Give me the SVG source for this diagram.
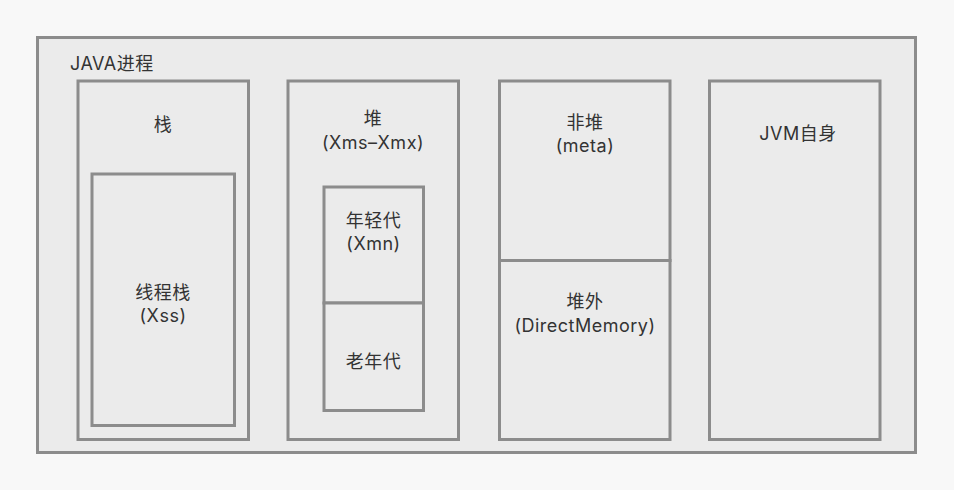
<svg xmlns="http://www.w3.org/2000/svg" width="954" height="490" viewBox="0 0 954 490">
<style>
.box{fill:#ebebeb;stroke:#8c8c8c;stroke-width:3}
.t{font-family:"Inter","Noto Sans CJK SC",sans-serif;font-size:18px;letter-spacing:0.5px;fill:#333;text-anchor:middle;dominant-baseline:central}
</style>
<rect width="954" height="490" fill="#f8f8f8"/>
<g id="java-process">
<rect class="box" x="37.5" y="37.5" width="878" height="415"/>
<text class="t" x="70" y="63" style="text-anchor:start">JAVA进程</text>
</g>
<g id="stack">
<rect class="box" x="78" y="81" width="170.5" height="358.5"/>
<text class="t" x="163" y="124">栈</text>
</g>
<g id="thread-stack">
<rect class="box" x="92" y="174" width="142.5" height="251.5"/>
<text class="t" x="163" y="292">线程栈</text>
<text class="t" x="163" y="315">(Xss)</text>
</g>
<g id="heap">
<rect class="box" x="288" y="81" width="170.5" height="358.5"/>
<text class="t" x="373" y="118">堆</text>
<text class="t" x="373" y="142">(Xms–Xmx)</text>
</g>
<g id="young-gen">
<rect class="box" x="324" y="187" width="99.5" height="116"/>
<text class="t" x="373.5" y="220">年轻代</text>
<text class="t" x="373.5" y="243">(Xmn)</text>
</g>
<g id="old-gen">
<rect class="box" x="324" y="303" width="99.5" height="107.5"/>
<text class="t" x="373.5" y="361">老年代</text>
</g>
<g id="non-heap">
<rect class="box" x="499.5" y="81" width="170.5" height="179.5"/>
<text class="t" x="585" y="122">非堆</text>
<text class="t" x="585" y="145">(meta)</text>
</g>
<g id="off-heap">
<rect class="box" x="499.5" y="260.5" width="170.5" height="179"/>
<text class="t" x="585" y="301">堆外</text>
<text class="t" x="585" y="325">(DirectMemory)</text>
</g>
<g id="jvm-self">
<rect class="box" x="709.5" y="81" width="170.5" height="358.5"/>
<text class="t" x="798" y="133">JVM自身</text>
</g>
<g id="connectors"/>
</svg>
